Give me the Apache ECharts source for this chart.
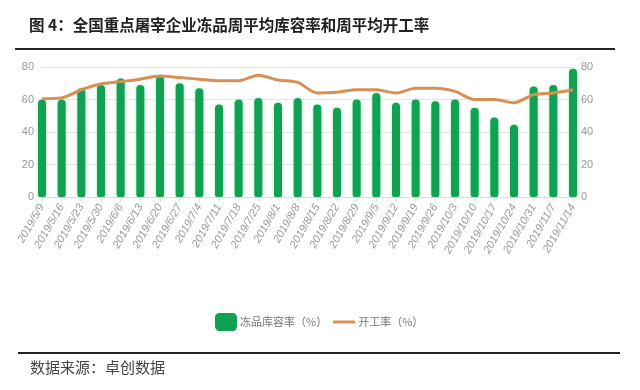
<!DOCTYPE html>
<html>
<head>
<meta charset="utf-8">
<script src="https://cdn.jsdelivr.net/npm/echarts@6/dist/echarts.min.js"></script>
<style>html,body{margin:0;padding:0;background:#fff;}#c{width:640px;height:390px;}</style>
</head>
<body>
<div id="c"></div>
<script>
var categories = ['2019/5/9','2019/5/16','2019/5/23','2019/5/30','2019/6/6','2019/6/13','2019/6/20','2019/6/27','2019/7/4','2019/7/11','2019/7/18','2019/7/25','2019/8/1','2019/8/8','2019/8/15','2019/8/22','2019/8/29','2019/9/5','2019/9/12','2019/9/19','2019/9/26','2019/10/3','2019/10/10','2019/10/17','2019/10/24','2019/10/31','2019/11/7','2019/11/14'];
var storageRate = [60,60,67,69,73,69,74.5,70,67,57,60,61,58,61,57,55,60,64,58,60,59,60,55,49,44.5,68,69,79];
var operatingRate = [60.5,61,66,69.5,71,72.5,74.5,73.5,72.5,71.5,71.5,75,72,70.5,64,64.5,66,66,64,67,67,65,60,60,58,63,64,66];
var yTicks = [0,20,40,60,80];

var chart = echarts.init(document.getElementById('c'));
var fontCJK = '"Noto Sans CJK SC", "Noto Sans", sans-serif';
chart.setOption({
  backgroundColor: '#ffffff',
  animation: false,
  title: {
    text: '图 4：全国重点屠宰企业冻品周平均库容率和周平均开工率',
    left: 24, top: 12,
    textStyle: {fontFamily: fontCJK, fontSize: 15.5, fontWeight: 'bold', color: '#222'}
  },
  graphic: [
    {type: 'rect', shape: {x: 15, y: 48, width: 600, height: 2}, style: {fill: '#222'}},
    {type: 'rect', shape: {x: 18, y: 352, width: 602, height: 2}, style: {fill: '#222'}},
    {type: 'text', left: 30, top: 360, style: {text: '数据来源：卓创数据', font: '15px "Noto Sans CJK SC"', fill: '#444'}}
  ],
  legend: {
    top: 308, left: 210,
    itemWidth: 22, itemHeight: 18, itemGap: 6,
    textStyle: {fontFamily: fontCJK, fontSize: 11, color: '#777', padding: [0, 0, 0, -2]},
    data: [
      {name: '冻品库容率（%）', icon: 'roundRect'},
      {name: '开工率（%）', icon: 'path://M0,0 L22,0 L22,3 L0,3 Z'}
    ]
  },
  grid: {left: 42, right: 67, top: 67, bottom: 193},
  xAxis: {
    type: 'category',
    data: categories,
    boundaryGap: false,
    axisLine: {lineStyle: {color: '#ddd'}},
    axisTick: {show: true, alignWithLabel: true, lineStyle: {color: '#e6e6e6'}},
    axisLabel: {rotate: 60, interval: 0, fontSize: 11, color: '#999', margin: 8, fontStyle: 'italic', fontFamily: 'Liberation Sans'}
  },
  yAxis: [
    {type: 'value', min: 0, max: 80, interval: 20,
     axisLine: {show: false}, axisTick: {show: false},
     splitLine: {lineStyle: {color: '#e6e6e6'}},
     axisLabel: {color: '#999', fontSize: 11, margin: 8, fontFamily: 'Liberation Sans Narrow, Liberation Sans'}},
    {type: 'value', min: 0, max: 80, interval: 20,
     axisLine: {show: false}, axisTick: {show: false},
     splitLine: {show: false},
     axisLabel: {color: '#999', fontSize: 11, margin: 8, fontFamily: 'Liberation Sans Narrow, Liberation Sans'}}
  ],
  series: [
    {
      name: '冻品库容率（%）', type: 'bar', data: storageRate, yAxisIndex: 0,
      barWidth: 8,
      itemStyle: {color: '#10a152', borderRadius: [4,4,2,2], shadowColor: 'rgba(80,220,140,0.6)', shadowBlur: 3}
    },
    {
      name: '开工率（%）', type: 'line', data: operatingRate, yAxisIndex: 1,
      symbol: 'none', smooth: 0.3,
      lineStyle: {color: '#d98f52', width: 3},
      itemStyle: {color: '#d98f52'}
    }
  ]
});
</script>
</body>
</html>
